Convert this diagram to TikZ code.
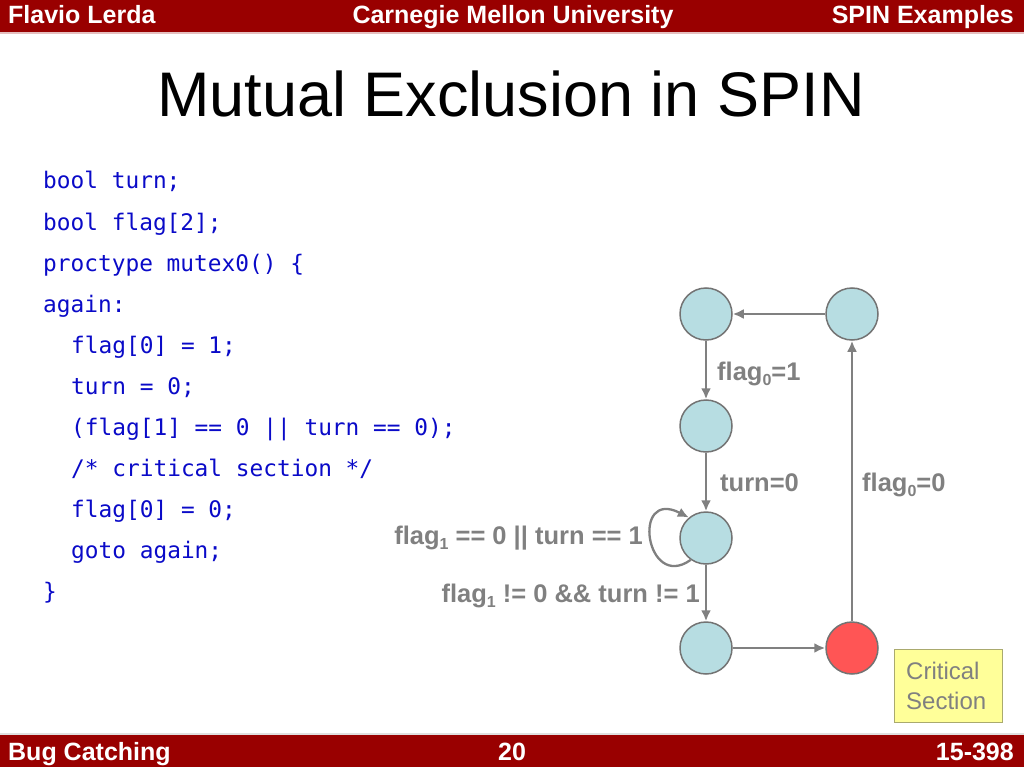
\documentclass[tikz,border=0pt]{standalone}
\usepackage{fontspec}
\setmainfont{Liberation Sans}
\newfontfamily\codefont{DejaVu Sans Mono}
\usetikzlibrary{arrows.meta}
\definecolor{barred}{RGB}{153,0,0}
\definecolor{codeblue}{RGB}{10,10,200}
\definecolor{nodeblue}{RGB}{183,221,226}
\definecolor{nodered}{RGB}{255,85,85}
\definecolor{edgegray}{RGB}{128,128,128}
\definecolor{labgray}{RGB}{128,128,128}
\definecolor{boxyellow}{RGB}{255,255,153}
\definecolor{boxedge}{RGB}{170,170,110}
\newcommand{\lsub}[1]{\raisebox{-5pt}{\fontsize{16}{16}\selectfont #1}}
\tikzset{
  bartext/.style={text=white,font=\fontsize{25}{30}\selectfont\bfseries,inner sep=0pt},
  codeline/.style={text=codeblue,font=\fontsize{22.8}{26}\codefont,inner sep=0pt,anchor=base west},
  state/.style={circle,draw=edgegray!90!black,line width=1.5pt,minimum size=52pt,inner sep=0pt,fill=nodeblue},
  arr/.style={draw=edgegray,line width=2.3pt,-{Latex[length=11pt,width=10pt]}},
  elabel/.style={text=labgray,font=\fontsize{25.5}{30}\selectfont\bfseries,inner sep=0pt},
}
\begin{document}
\begin{tikzpicture}[x=1pt,y=-1pt]
\useasboundingbox (0,0) rectangle (1024,767);
\fill[white] (0,0) rectangle (1024,767);
% bars
\fill[barred] (0,0) rectangle (1024,32);
\fill[barred!25] (0,32) rectangle (1024,34);
\fill[black!12] (0,733) rectangle (1024,735);
\fill[barred] (0,735) rectangle (1024,767);
\node[bartext,anchor=base west] (h1) at (8,24) {Flavio Lerda};
\node[bartext,anchor=base] (h2) at (513,24) {Carnegie Mellon University};
\node[bartext,anchor=base east] (h3) at (1014,24) {SPIN Examples};
\node[bartext,anchor=base west] (f1) at (8,760) {Bug Catching};
\node[bartext,anchor=base] (f2) at (512,760) {20};
\node[bartext,anchor=base east] (f3) at (1014,760) {15-398};
% title
\node[font=\fontsize{63}{70}\selectfont,inner sep=0pt,anchor=base] (title) at (511,117) {Mutual Exclusion in SPIN};
% code
\node[codeline] (c1) at (43,189) {bool turn;};
\node[codeline] (c2) at (43,230) {bool flag[2];};
\node[codeline] (c3) at (43,271) {proctype mutex0() \{};
\node[codeline] (c4) at (43,312) {again:};
\node[codeline] (c5) at (71,353) {flag[0] = 1;};
\node[codeline] (c6) at (71,394) {turn = 0;};
\node[codeline] (c7) at (71,435) {(flag[1] == 0 || turn == 0);};
\node[codeline] (c8) at (71,476) {/* critical section */};
\node[codeline] (c9) at (71,517) {flag[0] = 0;};
\node[codeline] (c10) at (71,558) {goto again;};
\node[codeline] (c11) at (43,599) {\}};
% states
\node[state] (A) at (706,314) {};
\node[state] (B) at (852,314) {};
\node[state] (C) at (706,426) {};
\node[state] (D) at (706,538) {};
\node[state] (E) at (706,648) {};
\node[state,fill=nodered] (F) at (852,648) {};
% edges
\draw[arr] (B) -- (A);
\draw[arr] (A) -- (C);
\draw[arr] (C) -- (D);
\draw[arr] (D) -- (E);
\draw[arr] (E) -- (F);
\draw[arr] (F) -- (B);
\draw[arr] (D.235) .. controls +(-45,32) and +(-58,-30) .. (D.130);
% labels
\node[elabel,anchor=base west] (l1) at (717,380) {flag\lsub{0}=1};
\node[elabel,anchor=base west] (l2) at (720,491) {turn=0};
\node[elabel,anchor=base west] (l3) at (862,491) {flag\lsub{0}=0};
\node[elabel,anchor=base east] (l4) at (643,544) {flag\lsub{1} == 0 || turn == 1};
\node[elabel,anchor=base east] (l5) at (700,602) {flag\lsub{1} != 0 \&\& turn != 1};
% critical section box
\node[draw=boxedge,line width=1.2pt,fill=boxyellow,minimum width=108pt,minimum height=73pt,inner sep=0pt,anchor=north west] (cs) at (894,649) {};
\node[text=labgray,font=\fontsize{24}{30}\selectfont,anchor=base west,inner sep=0pt] (cst1) at (906,679) {Critical};
\node[text=labgray,font=\fontsize{24}{30}\selectfont,anchor=base west,inner sep=0pt] (cst2) at (906,709) {Section};
\end{tikzpicture}
\end{document}
